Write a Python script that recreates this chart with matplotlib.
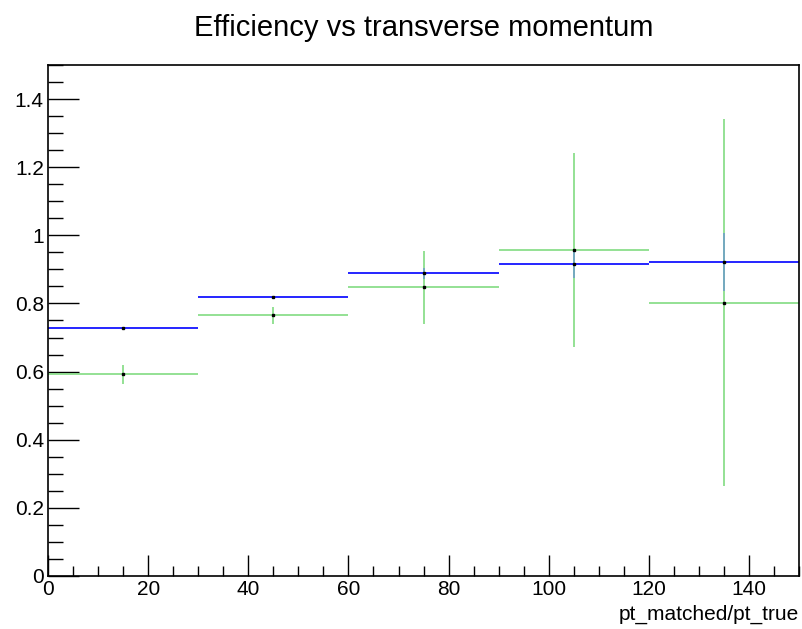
import matplotlib.pyplot as plt
import numpy as np
from matplotlib.ticker import MultipleLocator

plt.rcParams['font.family'] = ['Liberation Sans', 'DejaVu Sans']

bin_lo = np.array([0, 30, 60, 90, 120])
bin_hi = np.array([30, 60, 90, 120, 150])
eff_blue = np.array([0.727, 0.818, 0.889, 0.917, 0.922])
err_blue = np.array([0.003, 0.003, 0.016, 0.042, 0.085])
eff_green = np.array([0.592, 0.765, 0.847, 0.958, 0.802])
err_green = np.array([0.028, 0.025, 0.108, 0.285, 0.538])

xc = (bin_lo + bin_hi) / 2
xw = (bin_hi - bin_lo) / 2

fig = plt.figure(figsize=(8.02, 6.29), dpi=100)
ax = fig.add_axes([0.0599, 0.0843, 0.9364, 0.8124])

green = '#82dc82'
blue = '#0000ff'

ax.errorbar(xc, eff_blue, xerr=xw, fmt='none', ecolor=blue, elinewidth=1.2)
ax.errorbar(xc, eff_green, xerr=xw, fmt='none', ecolor=green, elinewidth=1.2)
ax.errorbar(xc, eff_green, yerr=err_green, fmt='none', ecolor=green, elinewidth=1.2)
ax.errorbar(xc, eff_blue, yerr=err_blue, fmt='none', ecolor='#6fa0c8', elinewidth=1.2)
ax.plot(xc, eff_blue, 's', color='black', markersize=1.5, linestyle='none')
ax.plot(xc, eff_green, 's', color='black', markersize=1.5, linestyle='none')

ax.set_xlim(0, 150)
ax.set_ylim(0, 1.5)
ax.xaxis.set_major_locator(MultipleLocator(20))
ax.xaxis.set_minor_locator(MultipleLocator(5))
ax.yaxis.set_major_locator(MultipleLocator(0.2))
ax.yaxis.set_minor_locator(MultipleLocator(0.05))
ax.set_yticks(np.arange(0, 1.41, 0.2))
ax.set_yticklabels(['0', '0.2', '0.4', '0.6', '0.8', '1', '1.2', '1.4'])

ax.tick_params(axis='x', which='major', direction='in', length=15, width=1, labelsize=15, pad=3)
ax.tick_params(axis='x', which='minor', direction='in', length=7.5, width=1)
ax.tick_params(axis='y', which='major', direction='in', length=22, width=1, labelsize=15, pad=3)
ax.tick_params(axis='y', which='minor', direction='in', length=11, width=1)
for s in ax.spines.values():
    s.set_linewidth(1.2)

ax.set_xlabel('pt_matched/pt_true', fontsize=15, loc='right', labelpad=4)
fig.text(0.528, 0.955, 'Efficiency vs transverse momentum', ha='center', va='center', fontsize=21)

fig.savefig('out.png', dpi=100)
